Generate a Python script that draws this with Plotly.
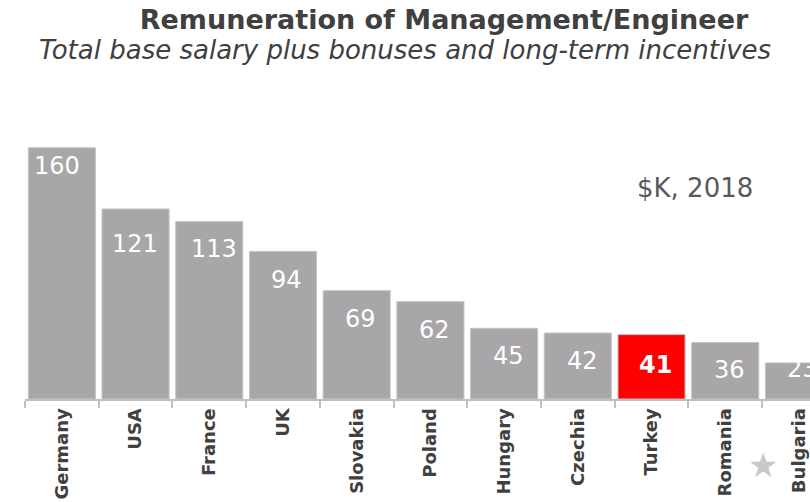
import plotly.graph_objects as go

countries = ["Germany", "USA", "France", "UK", "Slovakia", "Poland", "Hungary",
             "Czechia", "Turkey", "Romania", "Bulgaria"]
salary_k = [160, 121, 113, 94, 69, 62, 45, 42, 41, 36, 23]
highlight = "Turkey"

# style: label offsets (px) from bar top / bar centre
label_dy = [18, 35, 27, 29, 28, 28, 28, 28, 30, 28, 6]
label_dx = [-5, -1, 5, 4, 4, 4, 4, 5, 4, 4, 4]

GREY = "#a8a6a9"
RED = "#ff0000"
colors = [RED if c == highlight else GREY for c in countries]

W, H = 810, 502
fig = go.Figure()
fig.add_trace(go.Bar(
    x=countries, y=salary_k,
    marker=dict(color=colors, line=dict(color="#c4c4c4", width=1)),
    hoverinfo="x+y",
))

annotations = []
for i, (c, v) in enumerate(zip(countries, salary_k)):
    annotations.append(dict(
        x=c, y=v, xref="x", yref="y", text=str(v), showarrow=False,
        xanchor="center", yanchor="middle",
        yshift=-label_dy[i], xshift=label_dx[i],
        font=dict(family="DejaVu Sans", size=24, color="white",
                  weight="bold" if c == highlight else "normal"),
    ))

annotations += [
    dict(text="<i>Total base salary plus bonuses and long-term incentives</i>",
         xref="paper", yref="paper", x=0.484, y=1.168, showarrow=False,
         xanchor="center", yanchor="middle",
         font=dict(family="DejaVu Sans", size=26, color="#404040")),
    dict(text="$K, 2018", xref="paper", yref="paper", x=0.8535, y=0.7057,
         showarrow=False, xanchor="center", yanchor="middle",
         font=dict(family="DejaVu Sans", size=26, color="#595959")),
    dict(text="★", xref="paper", yref="paper", x=0.940, y=-0.2207,
         showarrow=False, xanchor="center", yanchor="middle",
         font=dict(family="DejaVu Sans", size=34, color="#c8c8c8")),
]

fig.update_layout(
    width=W, height=H,
    margin=dict(l=25, r=0, t=100, b=103, autoexpand=False),
    paper_bgcolor="white", plot_bgcolor="white",
    bargap=0.09,
    showlegend=False,
    title=dict(text="<b>Remuneration of Management/Engineer</b>",
               x=444 / W, xref="container", xanchor="center",
               y=1 - 20 / H, yref="container", yanchor="middle",
               font=dict(family="DejaVu Sans", size=27, color="#404040")),
    annotations=annotations,
    xaxis=dict(
        type="category", range=[-0.5, 10.15],
        showline=True, linecolor="#bfbfbf", linewidth=2,
        ticks="outside", tickson="boundaries", ticklen=7, tickcolor="#bfbfbf",
        tickwidth=2, tickangle=-90, automargin=False,
        tickfont=dict(family="DejaVu Sans", size=18, color="#404040", weight="bold"),
        showgrid=False, zeroline=False, fixedrange=True,
    ),
    yaxis=dict(range=[0, 190.4], visible=False, showgrid=False, zeroline=False,
               fixedrange=True),
)

fig.write_html("out.html",
               config={"displayModeBar": False},
               post_script="document.body.style.margin='0';document.body.style.overflow='hidden';")
